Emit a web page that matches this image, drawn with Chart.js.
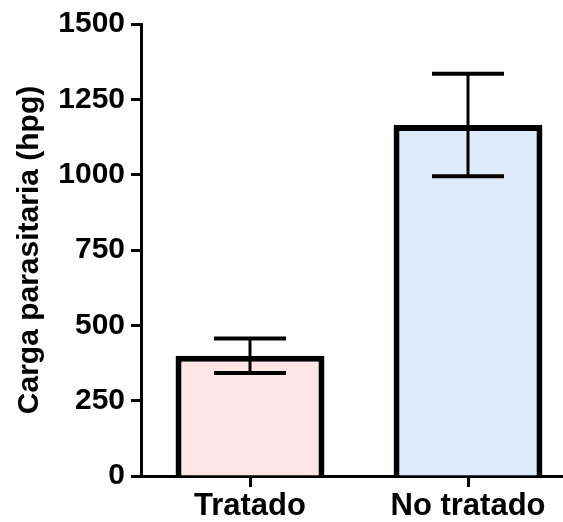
<!DOCTYPE html>
<html>
<head>
<meta charset="utf-8">
<script src="https://cdn.jsdelivr.net/npm/chart.js@4"></script>
<style>
  html, body { margin: 0; padding: 0; background: #fff; overflow: hidden; }
  #wrap { width: 563px; height: 522px; overflow: hidden; position: relative; }
  canvas { position: absolute; left: 0; top: 0; }
</style>
</head>
<body>
<div id="wrap"><canvas id="c" width="580" height="522"></canvas></div>
<script>
const categories = ['Tratado', 'No tratado'];
const means = [399, 1165];
const errors = [57, 170];
const yMin = 0, yMax = 1500, yStep = 250;
const barColors = ['rgb(253,231,230)', 'rgb(222,235,250)'];

Chart.defaults.font.family = "'Liberation Sans', Arial, sans-serif";
Chart.defaults.color = '#000';

const errorBars = {
  id: 'errorBars',
  afterDatasetsDraw(chart) {
    const ctx = chart.ctx;
    const meta = chart.getDatasetMeta(0);
    const ys = chart.scales.y;
    ctx.save();
    ctx.strokeStyle = '#000';
    meta.data.forEach((bar, i) => {
      const x = bar.x;
      const yt = ys.getPixelForValue(means[i] + errors[i]);
      const yb = ys.getPixelForValue(means[i] - errors[i]);
      ctx.lineWidth = 3;
      ctx.beginPath();
      ctx.moveTo(x, yt);
      ctx.lineTo(x, yb);
      ctx.stroke();
      ctx.lineWidth = 4;
      ctx.beginPath();
      ctx.moveTo(x - 36, yt); ctx.lineTo(x + 36, yt);
      ctx.moveTo(x - 36, yb); ctx.lineTo(x + 36, yb);
      ctx.stroke();
    });
    ctx.restore();
  }
};

new Chart(document.getElementById('c'), {
  type: 'bar',
  data: {
    labels: categories,
    datasets: [{
      data: means,
      backgroundColor: barColors,
      borderColor: '#000',
      borderWidth: 6,
      borderSkipped: 'start',
      barPercentage: 0.683,
      categoryPercentage: 1.0
    }]
  },
  options: {
    responsive: false,
    animation: false,
    devicePixelRatio: 1,
    layout: { padding: { top: 24, right: 3, left: 0, bottom: 0 } },
    plugins: { legend: { display: false }, tooltip: { enabled: false } },
    scales: {
      x: {
        z: 1,
        offset: true,
        grid: { display: true, drawOnChartArea: false, offset: false, tickLength: 11, tickWidth: 3, tickColor: '#000' },
        border: { display: true, width: 3, color: '#000' },
        ticks: { font: { size: 31, weight: 'bold' }, color: '#000', padding: 1, maxRotation: 0, autoSkip: false },
        afterFit(s) { s.height = 46; }
      },
      y: {
        z: 1,
        min: yMin, max: yMax,
        grid: { display: true, drawOnChartArea: false, tickLength: 10, tickWidth: 3, tickColor: '#000' },
        border: { display: true, width: 3, color: '#000' },
        ticks: { stepSize: yStep, font: { size: 30, weight: 'bold' }, color: '#000', padding: 6, callback: v => String(v) },
        title: { display: true, text: 'Carga parasitaria (hpg)', font: { size: 30, weight: 'bold' }, color: '#000', padding: { top: 12, bottom: 0 } },
        afterFit(s) { s.width = 141; }
      }
    }
  },
  plugins: [errorBars]
});
</script>
</body>
</html>
